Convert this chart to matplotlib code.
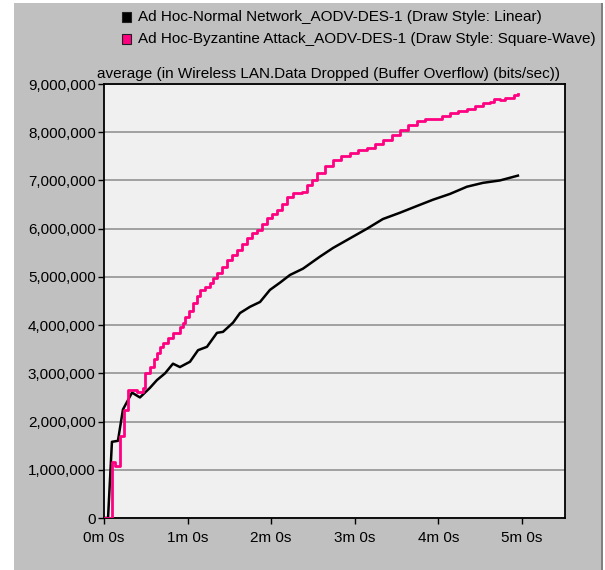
import matplotlib
matplotlib.use("Agg")
import matplotlib.pyplot as plt
from matplotlib.patches import Rectangle
from matplotlib.ticker import FuncFormatter

# Data dropped (buffer overflow), average, bits/sec vs simulation time (s)
normal_t = [0, 2.9, 5.7, 10.0, 13.6, 20.1, 25.8, 33.0, 38.0, 43.8, 49.5, 54.5,
            61.7, 67.5, 73.9, 81.1, 85.4, 92.6, 97.6, 104.8, 112.0, 119.1,
            126.3, 133.5, 142.8, 155.0, 164.4, 176.6, 188.8, 200.2, 212.4,
            224.6, 236.1, 248.3, 260.5, 272.0, 284.2, 297.1]
normal_v = [0, 0, 1.58e6, 1.60e6, 2.25e6, 2.60e6, 2.50e6, 2.70e6, 2.86e6, 3.00e6,
            3.20e6, 3.13e6, 3.24e6, 3.48e6, 3.55e6, 3.84e6, 3.86e6, 4.05e6,
            4.25e6, 4.38e6, 4.48e6, 4.73e6, 4.88e6, 5.04e6, 5.17e6, 5.42e6,
            5.60e6, 5.80e6, 6.00e6, 6.20e6, 6.33e6, 6.47e6, 6.60e6, 6.72e6,
            6.87e6, 6.95e6, 7.00e6, 7.10e6]

attack_t = [0, 5.7, 7.9, 11.5, 14.4, 17.2, 23.7, 28.0, 29.4, 33.0, 35.9, 38.0,
            40.2, 42.4, 45.9, 49.5, 54.5, 56.7, 58.1, 61.0, 63.9, 66.7, 68.9,
            72.5, 76.1, 78.2, 81.1, 84.7, 88.3, 91.9, 95.5, 99.0, 102.6, 106.2,
            109.8, 113.4, 117.0, 120.6, 124.2, 127.8, 131.4, 135.7, 142.1,
            145.7, 149.3, 152.9, 158.6, 164.4, 170.1, 176.6, 182.3, 188.8,
            194.5, 200.2, 206.7, 212.4, 218.2, 224.6, 230.4, 236.1, 242.6,
            248.3, 254.1, 260.5, 266.3, 272.0, 277.0, 279.9, 284.2, 287.8,
            291.4, 294.3, 297.1]
attack_v = [0, 1.16e6, 1.08e6, 1.70e6, 2.24e6, 2.66e6, 2.62e6, 2.70e6, 3.00e6,
            3.13e6, 3.30e6, 3.42e6, 3.55e6, 3.63e6, 3.74e6, 3.84e6, 3.96e6,
            4.05e6, 4.17e6, 4.30e6, 4.46e6, 4.60e6, 4.73e6, 4.80e6, 4.88e6,
            4.98e6, 5.08e6, 5.20e6, 5.35e6, 5.45e6, 5.56e6, 5.68e6, 5.80e6,
            5.90e6, 5.98e6, 6.10e6, 6.22e6, 6.30e6, 6.39e6, 6.52e6, 6.66e6,
            6.74e6, 6.76e6, 6.91e6, 7.00e6, 7.16e6, 7.30e6, 7.43e6, 7.50e6,
            7.57e6, 7.63e6, 7.68e6, 7.76e6, 7.84e6, 7.95e6, 8.05e6, 8.15e6,
            8.24e6, 8.27e6, 8.28e6, 8.33e6, 8.40e6, 8.44e6, 8.49e6, 8.55e6,
            8.60e6, 8.63e6, 8.68e6, 8.67e6, 8.70e6, 8.71e6, 8.78e6, 8.80e6]

series_labels = [
    "Ad Hoc-Normal Network_AODV-DES-1 (Draw Style: Linear)",
    "Ad Hoc-Byzantine Attack_AODV-DES-1 (Draw Style: Square-Wave)",
]
y_ticks = [0, 1e6, 2e6, 3e6, 4e6, 5e6, 6e6, 7e6, 8e6, 9e6]
x_ticks = [0, 60, 120, 180, 240, 300]
title = "average (in Wireless LAN.Data Dropped (Buffer Overflow) (bits/sec))"

BLACK = "#000000"
PINK = "#ff0080"
PANEL = "#c0c0c0"

plt.rcParams["font.family"] = ["Liberation Sans", "DejaVu Sans"]

W, H = 605, 570
fig = plt.figure(figsize=(W / 100, H / 100), dpi=100, facecolor="white")

# grey panel behind everything
fig.patches.append(Rectangle((14 / W, 0), (601 - 14) / W, (H - 3) / H, transform=fig.transFigure,
                             facecolor=PANEL, edgecolor="none", zorder=-5))
fig.patches.append(Rectangle((601 / W, 0), 1.5 / W, (H - 3) / H, transform=fig.transFigure,
                             facecolor="#808080", edgecolor="none", zorder=-5))

left, right, top, bottom = 104, 565, 84, 518
ax = fig.add_axes([left / W, (H - bottom) / H, (right - left) / W, (bottom - top) / H])
ax.set_zorder(1)
ax.set_facecolor("#f0f0f0")

ax.plot(normal_t, normal_v, color=BLACK, linewidth=1.8, zorder=3)
ax.plot(attack_t, attack_v, color=PINK, linewidth=2.0, drawstyle="steps-post", zorder=4)

ax.set_xlim(0, 330.9)
ax.set_ylim(0, 9e6)
ax.set_yticks(y_ticks)
ax.set_xticks(x_ticks)
ax.yaxis.set_major_formatter(FuncFormatter(lambda v, p: f"{int(v):,}"))
ax.xaxis.set_major_formatter(FuncFormatter(lambda v, p: f"{int(v // 60)}m {int(v % 60)}s"))
ax.grid(axis="y", color="#9a9a9a", linewidth=1.3)
ax.set_axisbelow(True)

for s in ax.spines.values():
    s.set_color("black")
    s.set_linewidth(1.3)
ax.tick_params(axis="both", direction="out", width=1.0, colors="black", labelsize=11)
ax.tick_params(axis="y", length=4.5, pad=1.5)
ax.tick_params(axis="x", length=4, pad=5)

fig.text(97 / W, 1 - 78 / H, title, fontsize=11, ha="left", va="baseline")

# legend rows
for i, (lab, col) in enumerate(zip(series_labels, [BLACK, PINK])):
    yc = 17 + i * 22
    fig.patches.append(Rectangle((122 / W, 1 - (yc + 4.5) / H), 8.5 / W, 9 / H,
                                 transform=fig.transFigure, facecolor=col,
                                 edgecolor="#202020", linewidth=0.8, zorder=2))
    fig.text(138 / W, 1 - yc / H, lab, fontsize=11, ha="left", va="center")

fig.savefig("out.png", dpi=100, facecolor="white")
